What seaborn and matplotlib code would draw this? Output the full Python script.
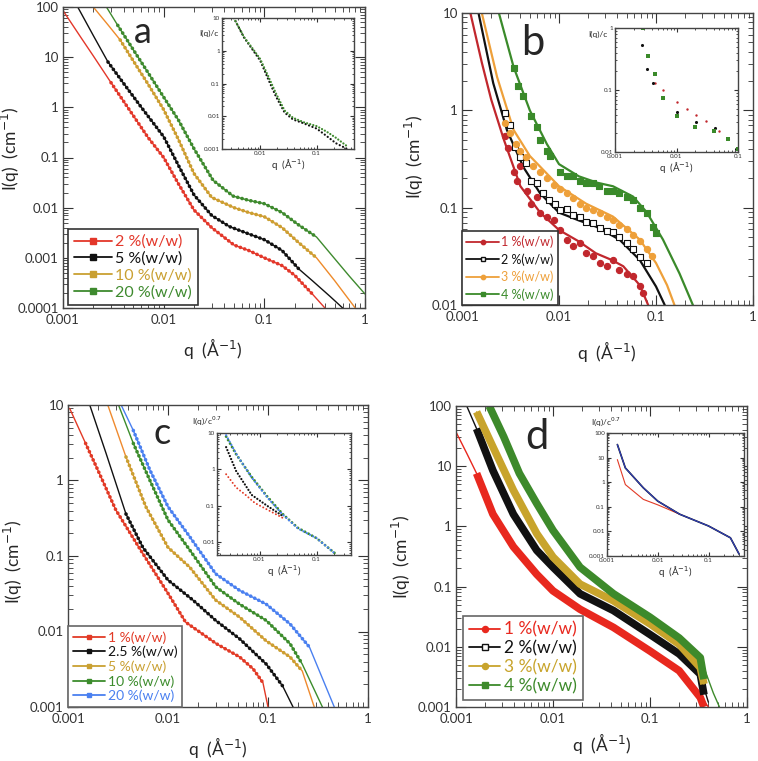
import numpy as np
import matplotlib
matplotlib.use("Agg")
import matplotlib.pyplot as plt
from matplotlib.lines import Line2D
from matplotlib.ticker import LogLocator, FuncFormatter, NullFormatter
import seaborn as sns

# ---------------- panel a ----------------
a_labels = ["2 %(w/w)", "5 %(w/w)", "10 %(w/w)", "20 %(w/w)"]
a_dot_colors = ["#e3372a", "#111111", "#c9a032", "#3e8a2e"]
a_line_colors = ["#e3372a", "#111111", "#ee8a2a", "#3e8a2e"]
a_q_2 = [0.001, 0.0015, 0.002, 0.003, 0.005, 0.007, 0.01, 0.014, 0.02, 0.03, 0.05, 0.07, 0.1, 0.15, 0.2, 0.3, 0.4]
a_I_2 = [85, 25, 10.6, 3.1, 0.68, 0.25, 0.1, 0.03, 0.009, 0.004, 0.0018, 0.0014, 0.001, 0.0007, 0.00045, 0.00019, 0.0001]
a_q_5 = [0.0014, 0.002, 0.0028, 0.004, 0.006, 0.01, 0.014, 0.02, 0.03, 0.045, 0.07, 0.1, 0.15, 0.22, 0.3, 0.45, 0.6]
a_I_5 = [100, 27, 8, 3.0, 1.0, 0.26, 0.07, 0.018, 0.007, 0.0042, 0.003, 0.0023, 0.0014, 0.0006, 0.00035, 0.00017, 0.0001]
a_q_10 = [0.002, 0.0028, 0.0037, 0.005, 0.007, 0.01, 0.014, 0.02, 0.03, 0.05, 0.07, 0.1, 0.15, 0.22, 0.33, 0.5, 0.8]
a_I_10 = [100, 44, 22, 8.4, 2.9, 0.9, 0.23, 0.048, 0.016, 0.01, 0.008, 0.0066, 0.004, 0.002, 0.001, 0.00035, 0.0001]
a_q_20 = [0.0027, 0.0035, 0.005, 0.007, 0.01, 0.014, 0.02, 0.031, 0.049, 0.07, 0.1, 0.15, 0.22, 0.33, 0.5, 0.7, 1.0]
a_I_20 = [100, 43, 14, 4.9, 1.6, 0.56, 0.15, 0.035, 0.017, 0.014, 0.012, 0.008, 0.0045, 0.0026, 0.00096, 0.00043, 0.00019]
a_data_lo = [0.0023, 0.0028, 0.003, 0.0034]
a_data_hi = [0.3, 0.27, 0.33, 0.33]

# inset a : I(q)/c master curve
ai_q = [0.0034, 0.0045, 0.0051, 0.007, 0.01, 0.014, 0.019, 0.027, 0.038, 0.06, 0.1, 0.15, 0.22, 0.35]
ai_I_green = [10, 4.1, 2.7, 1.3, 0.56, 0.16, 0.05, 0.015, 0.009, 0.0065, 0.005, 0.0034, 0.0022, 0.0012]
ai_I_black = [10, 4.0, 2.6, 1.2, 0.5, 0.13, 0.04, 0.013, 0.008, 0.006, 0.0042, 0.0025, 0.0015, 0.001]

# ---------------- panel b ----------------
b_labels = ["1 %(w/w)", "2 %(w/w)", "3 %(w/w)", "4 %(w/w)"]
b_colors = ["#c1272d", "#111111", "#eea03a", "#3a8a2a"]
b_markers = ["o", "s", "o", "s"]
# fitted curves
b_q_1 = [0.00122, 0.0016, 0.002, 0.0027, 0.004, 0.0064, 0.01, 0.016, 0.024, 0.035, 0.046, 0.068, 0.083]
b_I_1 = [10, 3.1, 1.29, 0.5, 0.166, 0.089, 0.059, 0.045, 0.034, 0.029, 0.025, 0.016, 0.01]
b_q_2 = [0.00148, 0.0021, 0.0029, 0.0043, 0.0064, 0.01, 0.016, 0.024, 0.042, 0.068, 0.1, 0.123]
b_I_2 = [10, 1.9, 0.63, 0.26, 0.14, 0.089, 0.074, 0.064, 0.047, 0.029, 0.0155, 0.01]
b_q_3 = [0.0016, 0.0023, 0.0034, 0.005, 0.01, 0.019, 0.036, 0.068, 0.1, 0.13, 0.155]
b_I_3 = [10, 2.2, 0.63, 0.34, 0.166, 0.11, 0.081, 0.047, 0.027, 0.016, 0.01]
b_q_4 = [0.0024, 0.0034, 0.005, 0.0075, 0.01, 0.016, 0.025, 0.036, 0.058, 0.08, 0.118, 0.175, 0.24]
b_I_4 = [10, 2.8, 1.0, 0.45, 0.28, 0.21, 0.18, 0.166, 0.13, 0.09, 0.047, 0.021, 0.01]
# measured points
b_dq_1 = [0.0028, 0.003, 0.0034, 0.0037, 0.004, 0.0047, 0.0052, 0.0059, 0.0064, 0.0075, 0.0088, 0.0102, 0.012,
          0.014, 0.0164, 0.0192, 0.0225, 0.0264, 0.031, 0.036, 0.042, 0.05, 0.058, 0.068, 0.074]
b_dI_1 = [0.54, 0.41, 0.23, 0.19, 0.27, 0.15, 0.11, 0.13, 0.088, 0.081, 0.075, 0.059, 0.047,
          0.04, 0.043, 0.034, 0.032, 0.027, 0.025, 0.029, 0.023, 0.021, 0.02, 0.0156, 0.0133]
b_dq_2 = [0.0028, 0.0031, 0.0035, 0.004, 0.0046, 0.0052, 0.006, 0.0068, 0.0078, 0.009, 0.0102, 0.012, 0.014,
          0.0164, 0.0192, 0.0225, 0.0264, 0.031, 0.036, 0.042, 0.05, 0.058, 0.068, 0.08]
b_dI_2 = [0.95, 0.7, 0.42, 0.33, 0.29, 0.19, 0.18, 0.14, 0.12, 0.11, 0.095, 0.097, 0.085,
          0.08, 0.072, 0.07, 0.062, 0.058, 0.056, 0.05, 0.043, 0.038, 0.031, 0.027]
b_dq_3 = [0.0028, 0.0031, 0.0036, 0.004, 0.0046, 0.0054, 0.0064, 0.0075, 0.0088, 0.0102, 0.012, 0.014,
          0.0164, 0.0192, 0.0225, 0.0264, 0.031, 0.036, 0.042, 0.05, 0.058, 0.068, 0.08, 0.092]
b_dI_3 = [0.74, 0.58, 0.45, 0.38, 0.33, 0.27, 0.23, 0.2, 0.17, 0.155, 0.14, 0.125,
          0.11, 0.1, 0.095, 0.088, 0.08, 0.075, 0.066, 0.06, 0.052, 0.045, 0.038, 0.032]
b_dq_4 = [0.0034, 0.0038, 0.0043, 0.0052, 0.0059, 0.0064, 0.0075, 0.008, 0.0102, 0.012, 0.014, 0.0164,
          0.0192, 0.0225, 0.026, 0.031, 0.036, 0.042, 0.05, 0.058, 0.068, 0.08, 0.093, 0.1]
b_dI_4 = [2.7, 1.77, 1.4, 0.87, 0.68, 0.5, 0.38, 0.34, 0.23, 0.21, 0.21, 0.19,
          0.18, 0.18, 0.166, 0.15, 0.147, 0.14, 0.13, 0.12, 0.1, 0.088, 0.064, 0.055]

# inset b
bi_q_black = [0.0027, 0.0033, 0.0042, 0.0061, 0.01, 0.021, 0.042, 0.07, 0.094]
bi_I_black = [0.54, 0.22, 0.13, 0.073, 0.044, 0.03, 0.024, 0.016, 0.011]
bi_q_red = [0.0045, 0.006, 0.01, 0.015, 0.021, 0.03, 0.05, 0.07]
bi_I_red = [0.13, 0.1, 0.065, 0.05, 0.04, 0.032, 0.022, 0.016]
bi_q_green = [0.0029, 0.0035, 0.0045, 0.006, 0.01, 0.02, 0.04, 0.07, 0.1]
bi_I_green = [1.0, 0.35, 0.18, 0.075, 0.038, 0.025, 0.022, 0.016, 0.011]

# ---------------- panel c ----------------
c_labels = ["1 %(w/w)", "2.5 %(w/w)", "5 %(w/w)", "10 %(w/w)", "20 %(w/w)"]
c_dot_colors = ["#e23a26", "#111111", "#c9a032", "#3c8c2c", "#4a80f0"]
c_line_colors = ["#e23a26", "#111111", "#ef8a2e", "#3c8c2c", "#4a80f0"]
c_q_1 = [0.00104, 0.0015, 0.002, 0.003, 0.0052, 0.01, 0.015, 0.0304, 0.052, 0.071, 0.089, 0.1]
c_I_1 = [9, 3.1, 1.35, 0.41, 0.126, 0.032, 0.0133, 0.0069, 0.0046, 0.0032, 0.0021, 0.001]
c_q_25 = [0.00165, 0.0024, 0.0038, 0.0056, 0.01, 0.0178, 0.03, 0.052, 0.096, 0.14, 0.178]
c_I_25 = [10, 2.3, 0.36, 0.13, 0.048, 0.026, 0.014, 0.008, 0.0037, 0.0019, 0.001]
c_q_5 = [0.0025, 0.0038, 0.006, 0.01, 0.0165, 0.03, 0.052, 0.096, 0.166, 0.22, 0.29]
c_I_5 = [10, 2.05, 0.45, 0.13, 0.071, 0.026, 0.0155, 0.0075, 0.0046, 0.003, 0.001]
c_q_10 = [0.0032, 0.0045, 0.0066, 0.01, 0.0165, 0.03, 0.052, 0.096, 0.166, 0.22, 0.35]
c_I_10 = [10, 3.1, 1.0, 0.3, 0.12, 0.039, 0.023, 0.014, 0.0069, 0.0037, 0.001]
c_q_20 = [0.0034, 0.0045, 0.0066, 0.01, 0.0165, 0.03, 0.052, 0.096, 0.166, 0.26, 0.46]
c_I_20 = [10, 4.6, 1.37, 0.45, 0.18, 0.058, 0.035, 0.023, 0.0126, 0.0062, 0.001]
c_data_lo = [0.0015, 0.003, 0.003, 0.0035, 0.0035]
c_data_hi = [0.09, 0.14, 0.22, 0.22, 0.26]

# inset c : I(q)/c^0.7
ci_q_blue = [0.0026, 0.0039, 0.0073, 0.0137, 0.0254, 0.047, 0.1, 0.21]
ci_I_blue = [8.7, 2.7, 0.6, 0.17, 0.058, 0.024, 0.013, 0.0049]
ci_I_green = [8.0, 2.6, 0.62, 0.18, 0.06, 0.025, 0.013, 0.005]
ci_q_red = [0.0026, 0.0039, 0.0057, 0.0083, 0.0137, 0.0254]
ci_I_red = [0.74, 0.32, 0.2, 0.12, 0.079, 0.047]
ci_q_black = [0.0026, 0.0039, 0.0073, 0.0137, 0.0254]
ci_I_black = [4.1, 0.9, 0.2, 0.1, 0.053]

# ---------------- panel d ----------------
d_labels = ["1 %(w/w)", "2 %(w/w)", "3 %(w/w)", "4 %(w/w)"]
d_colors = ["#e8281e", "#111111", "#c8a42c", "#3d8a2b"]
d_markers = ["o", "s", "o", "s"]
d_q = [0.00163, 0.0024, 0.0039, 0.0068, 0.01, 0.019, 0.042, 0.1, 0.2, 0.33, 0.36]
d_I_1 = [7.6, 1.6, 0.46, 0.16, 0.085, 0.042, 0.021, 0.0085, 0.004, 0.00144, 0.001]
d_I_2 = [42, 8.5, 1.6, 0.4, 0.21, 0.076, 0.04, 0.016, 0.0076, 0.0035, 0.0016]
d_I_3 = [80, 21, 4, 0.76, 0.31, 0.11, 0.058, 0.024, 0.011, 0.0045, 0.0024]
d_q_4 = [0.0022, 0.0031, 0.0045, 0.0068, 0.01, 0.019, 0.042, 0.1, 0.2, 0.33, 0.36]
d_I_4 = [100, 31, 7.6, 2.4, 0.86, 0.21, 0.076, 0.031, 0.014, 0.0066, 0.0029]
# fits (thin lines)
d_fit_q_1 = [0.001, 0.0013, 0.00163, 0.0024, 0.0039, 0.0068, 0.01, 0.019, 0.042, 0.1, 0.2, 0.33, 0.4]
d_fit_I_1 = [37, 16, 7.6, 1.6, 0.46, 0.16, 0.085, 0.042, 0.021, 0.0085, 0.004, 0.0015, 0.001]
d_fit_q_2 = [0.00129, 0.00163, 0.0024, 0.0039, 0.0068, 0.01, 0.019, 0.042, 0.1, 0.2, 0.33, 0.4]
d_fit_I_2 = [100, 42, 8.5, 1.6, 0.4, 0.21, 0.076, 0.04, 0.016, 0.0076, 0.0033, 0.0012]
d_fit_q_4 = [0.0022, 0.0031, 0.0045, 0.0068, 0.01, 0.019, 0.042, 0.1, 0.2, 0.33, 0.45, 0.52]
d_fit_I_4 = [100, 31, 7.6, 2.4, 0.86, 0.21, 0.076, 0.031, 0.014, 0.0066, 0.0017, 0.001]

# inset d
di_q = [0.0016, 0.0023, 0.0052, 0.01, 0.027, 0.1, 0.27, 0.4]
di_I_blue = [34, 3.8, 0.59, 0.17, 0.05, 0.0166, 0.0055, 0.0012]
di_q_red = [0.0016, 0.0023, 0.0052, 0.01, 0.0139, 0.027]
di_I_red = [8.3, 0.8, 0.2, 0.12, 0.09, 0.05]

# ---------------------------------------------------------------
sns.set_theme(style="ticks")
plt.rcParams["font.family"] = ["Lato", "DejaVu Sans"]
plt.rcParams["mathtext.fontset"] = "dejavusans"

fig = plt.figure(figsize=(7.58, 7.61), dpi=100)
W, H = 758.0, 761.0


def place(l, t, r, b):
    return [l / W, 1 - b / H, (r - l) / W, (b - t) / H]


fmt = FuncFormatter(lambda v, p: f"{v:g}")


def style_log(ax, xlim, ylim, labelsize=9.5, major=7, minor=3.5):
    ax.set_xscale("log")
    ax.set_yscale("log")
    ax.set_xlim(*xlim)
    ax.set_ylim(*ylim)
    for axis in (ax.xaxis, ax.yaxis):
        axis.set_major_locator(LogLocator(base=10, numticks=20))
        axis.set_minor_locator(LogLocator(base=10, subs=np.arange(2, 10), numticks=20))
        axis.set_major_formatter(fmt)
        axis.set_minor_formatter(NullFormatter())
    ax.tick_params(which="both", direction="in", top=True, right=True, colors="#333333")
    ax.tick_params(which="major", length=major, width=0.8, labelsize=labelsize, pad=3)
    ax.tick_params(which="minor", length=minor, width=0.6)
    for s in ax.spines.values():
        s.set_color("#444444")
        s.set_linewidth(1.0)


def main_labels(ax, ylab_xy, xlab_xy):
    ax.tick_params(axis="x", which="major", pad=4.5)
    ax.set_xlabel(r"q  (Å$^{-1}$)", fontsize=12.5)
    ax.set_ylabel(r"I(q)  (cm$^{-1}$)", fontsize=12.5)
    ax.yaxis.set_label_coords(*ylab_xy)
    ax.xaxis.set_label_coords(*xlab_xy)


def dotted(ax, q, I, lo, hi, color, lw=2.4, gap=1.3):
    qd = [x for x in q if lo <= x <= hi]
    Id = [y for x, y in zip(q, I) if lo <= x <= hi]
    sns.lineplot(x=qd, y=Id, ax=ax, color=color, lw=lw, linestyle=(0, (0.05, gap)),
                 dash_capstyle="round", sort=False, estimator=None)


def add_legend(ax, labels, colors, markers, mfill, anchor, fontsize, edge, hl=2.0, spacing=0.15):
    handles = []
    for c, m, f in zip(colors, markers, mfill):
        handles.append(Line2D([], [], color=c, lw=1.3, marker=m, ms=fontsize * 0.35,
                              markerfacecolor=c if f else "white", markeredgecolor=c))
    leg = ax.legend(handles, labels, loc="lower left", bbox_to_anchor=anchor, fontsize=fontsize,
                    frameon=True, fancybox=False, framealpha=1, edgecolor=edge,
                    handlelength=hl, handletextpad=0.2, borderpad=0.35, labelspacing=spacing,
                    borderaxespad=0)
    leg.get_frame().set_linewidth(1.2)
    for t, c in zip(leg.get_texts(), colors):
        t.set_color(c)
    return leg


def inset_style(ax, xlim, ylim, ylab, ylab_xy, ylab_ha):
    style_log(ax, xlim, ylim, labelsize=4.5, major=3, minor=1.6)
    ax.tick_params(which="major", pad=1.5)
    ax.set_xlabel(r"q  (Å$^{-1}$)", fontsize=7, labelpad=1)
    ax.text(ylab_xy[0], ylab_xy[1], ylab, transform=ax.transAxes, fontsize=6,
            ha=ylab_ha, va="center")


# ---------------- a ----------------
ax = fig.add_axes(place(63, 7, 365, 308))
style_log(ax, (0.001, 1), (0.0001, 100))
a_series = [(a_q_2, a_I_2), (a_q_5, a_I_5), (a_q_10, a_I_10), (a_q_20, a_I_20)]
for i, (q, I) in enumerate(a_series):
    sns.lineplot(x=q, y=I, ax=ax, color=a_line_colors[i], lw=1.0, sort=False, estimator=None)
    dotted(ax, q, I, a_data_lo[i], a_data_hi[i], a_dot_colors[i], lw=2.6, gap=1.2)
main_labels(ax, (-0.135, 0.53), (0.497, -0.093))
ax.text(0.265, 0.915, "a", transform=ax.transAxes, fontsize=26, ha="center", va="center")
add_legend(ax, a_labels, a_dot_colors, ["s"] * 4, [True] * 4, (0.017, 0.01), 11.5, "#333333", hl=2.4)

axi = fig.add_axes(place(222, 18, 354, 149))
inset_style(axi, (0.0021, 0.46), (0.001, 10), "I(q)/c", (-0.03, 0.88), "right")
dotted(axi, ai_q, ai_I_black, 0, 1, "#111111", lw=1.6, gap=1.6)
dotted(axi, ai_q, ai_I_green, 0, 1, "#3e8a2e", lw=1.6, gap=1.4)

# ---------------- b ----------------
ax = fig.add_axes(place(462, 13, 753, 305))
style_log(ax, (0.001, 1), (0.01, 10))
b_series = [(b_q_1, b_I_1), (b_q_2, b_I_2), (b_q_3, b_I_3), (b_q_4, b_I_4)]
b_points = [(b_dq_1, b_dI_1), (b_dq_2, b_dI_2), (b_dq_3, b_dI_3), (b_dq_4, b_dI_4)]
for i, (q, I) in enumerate(b_series):
    sns.lineplot(x=q, y=I, ax=ax, color=b_colors[i], lw=1.6, sort=False, estimator=None)
    qd, Id = b_points[i]
    filled = i != 1
    sns.scatterplot(x=qd, y=Id, ax=ax, marker=b_markers[i], s=20,
                    color=b_colors[i] if filled else "white", edgecolor=b_colors[i],
                    linewidth=0.8, zorder=3)
main_labels(ax, (-0.124, 0.507), (0.498, -0.116))
ax.text(0.244, 0.897, "b", transform=ax.transAxes, fontsize=30, ha="center", va="center")
add_legend(ax, b_labels, b_colors, b_markers, [True, False, True, True], (0.0, 0.0), 9, "#333333",
           hl=2.6, spacing=0.4)

axi = fig.add_axes(place(615, 28, 738, 152))
inset_style(axi, (0.001, 0.1), (0.01, 1), "I(q)/c", (-0.06, 0.95), "right")
sns.scatterplot(x=bi_q_red, y=bi_I_red, ax=axi, color="#c1272d", s=3, linewidth=0)
sns.scatterplot(x=bi_q_black, y=bi_I_black, ax=axi, color="#111111", s=5, linewidth=0)
sns.scatterplot(x=bi_q_green, y=bi_I_green, ax=axi, color="#3a8a2a", s=6, marker="s", linewidth=0)

# ---------------- c ----------------
ax = fig.add_axes(place(68, 405, 368, 707))
style_log(ax, (0.001, 1), (0.001, 10))
c_series = [(c_q_1, c_I_1), (c_q_25, c_I_25), (c_q_5, c_I_5), (c_q_10, c_I_10), (c_q_20, c_I_20)]
for i, (q, I) in enumerate(c_series):
    sns.lineplot(x=q, y=I, ax=ax, color=c_line_colors[i], lw=1.0, sort=False, estimator=None)
    dotted(ax, q, I, c_data_lo[i], c_data_hi[i], c_dot_colors[i], lw=2.6, gap=1.2)
main_labels(ax, (-0.143, 0.48), (0.5, -0.092))
ax.text(0.313, 0.905, "c", transform=ax.transAxes, fontsize=26, ha="center", va="center")
add_legend(ax, c_labels, c_dot_colors, ["s"] * 5, [True] * 5, (0.0, 0.0), 10, "#666666", hl=2.3)

axi = fig.add_axes(place(217, 433, 351, 555))
inset_style(axi, (0.0018, 0.4), (0.0045, 10), r"I(q)/c$^{0.7}$", (-0.19, 1.1), "left")
dotted(axi, ci_q_red, ci_I_red, 0, 1, "#e23a26", lw=1.4, gap=1.8)
dotted(axi, ci_q_black, ci_I_black, 0, 1, "#111111", lw=1.6, gap=1.4)
dotted(axi, ci_q_blue, ci_I_green, 0, 1, "#3c8c2c", lw=2.0, gap=1.4)
dotted(axi, ci_q_blue, ci_I_blue, 0, 1, "#4a80f0", lw=1.6, gap=1.6)

# ---------------- d ----------------
ax = fig.add_axes(place(456, 406, 747, 707))
style_log(ax, (0.001, 1), (0.001, 100))
d_series = [(d_q, d_I_1), (d_q, d_I_2), (d_q, d_I_3), (d_q_4, d_I_4)]
d_fits = [(d_fit_q_1, d_fit_I_1), (d_fit_q_2, d_fit_I_2), (d_q, d_I_3), (d_fit_q_4, d_fit_I_4)]
for i, (q, I) in enumerate(d_series):
    sns.lineplot(x=q, y=I, ax=ax, color=d_colors[i], lw=5.5, sort=False, estimator=None,
                 solid_capstyle="butt")
    fq, fI = d_fits[i]
    sns.lineplot(x=fq, y=fI, ax=ax, color=d_colors[i], lw=1.0, sort=False, estimator=None)
main_labels(ax, (-0.148, 0.5), (0.5, -0.08))
ax.text(0.278, 0.897, "d", transform=ax.transAxes, fontsize=30, ha="center", va="center")
add_legend(ax, d_labels, d_colors, d_markers, [True, False, True, True], (0.024, 0.023), 12.5, "#666666", hl=1.8)

axi = fig.add_axes(place(607, 433, 744, 556))
inset_style(axi, (0.001, 0.5), (0.001, 100), r"I(q)/c$^{0.7}$", (-0.12, 1.09), "left")
sns.lineplot(x=di_q_red, y=di_I_red, ax=axi, color="#e23a26", lw=0.8, sort=False, estimator=None)
sns.lineplot(x=di_q, y=di_I_blue, ax=axi, color="#111111", lw=1.2, sort=False, estimator=None)
sns.lineplot(x=di_q, y=di_I_blue, ax=axi, color="#3040c0", lw=0.8, sort=False, estimator=None)

fig.savefig("out.png", dpi=100)
